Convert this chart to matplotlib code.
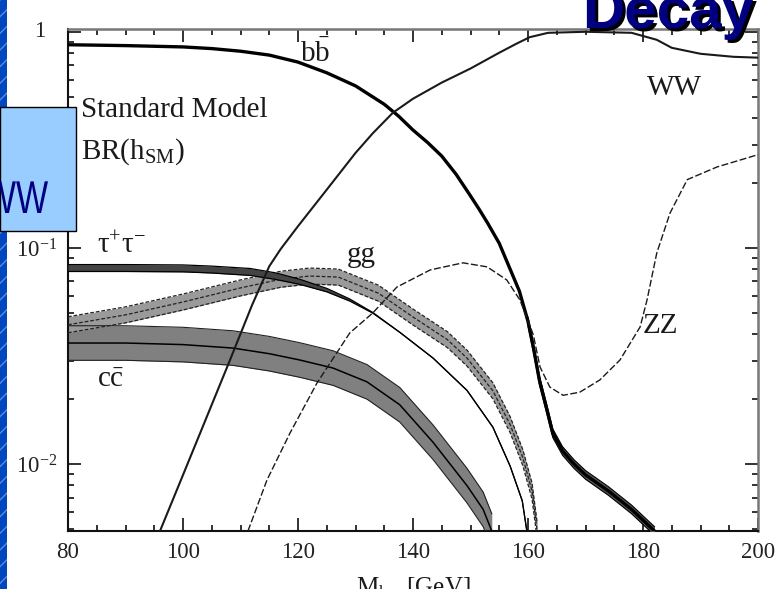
import numpy as np
import matplotlib
matplotlib.use("Agg")
import matplotlib.pyplot as plt
from matplotlib.patches import Rectangle, PathPatch
from matplotlib.textpath import TextPath
from matplotlib.font_manager import FontProperties
from matplotlib.transforms import Affine2D, IdentityTransform
from matplotlib.ticker import MultipleLocator, LogLocator, FixedLocator, FixedFormatter, NullFormatter

plt.rcParams['font.family'] = ['Liberation Serif', 'DejaVu Serif']
plt.rcParams['mathtext.fontset'] = 'custom'
plt.rcParams['mathtext.rm'] = 'Liberation Serif'
plt.rcParams['mathtext.it'] = 'Liberation Serif:italic'
plt.rcParams['mathtext.bf'] = 'Liberation Serif:bold'

# Higgs mass [GeV] and branching ratios, one pair of lists per channel
bb_m = [80, 90, 100, 105, 110, 115, 120, 125, 130, 135, 137.5, 140, 142.5, 145, 147.5,
        150, 151.5, 153, 155, 157, 158.5, 160, 161, 162, 163.3, 164.3, 166, 168, 170,
        174, 178, 182]
bb_br = [0.871, 0.863, 0.851, 0.836, 0.813, 0.780, 0.724, 0.646, 0.562, 0.462, 0.407,
         0.351, 0.308, 0.266, 0.219, 0.174, 0.151, 0.130, 0.105, 0.0785, 0.0631, 0.0457,
         0.0339, 0.0243, 0.0178, 0.0139, 0.0115, 0.0100, 0.00891, 0.00750, 0.00617,
         0.00490]

ww_m = [96, 100, 104, 108, 112, 115, 117, 120, 125, 130, 133, 136.5, 140, 145, 150, 155,
        158, 160.3, 163.5, 170, 178, 182.4, 185, 190, 195.7, 200]
ww_br = [0.0049, 0.0089, 0.0162, 0.0295, 0.0543, 0.0822, 0.0989, 0.126, 0.186, 0.275,
         0.339, 0.422, 0.490, 0.582, 0.676, 0.800, 0.881, 0.944, 0.989, 1.0, 0.989,
         0.918, 0.843, 0.791, 0.766, 0.759]

zz_m = [111.3, 114.6, 118.6, 123.3, 129.0, 133.0, 137.2, 143.0, 148.7, 152.9, 156.3,
        158.6, 160.9, 162.1, 163.8, 166.1, 169.0, 172.5, 176.0, 179.5, 180.7, 182.4,
        184.7, 187.7, 192.9, 200]
zz_br = [0.0049, 0.00843, 0.0139, 0.0237, 0.0404, 0.0500, 0.0659, 0.0791, 0.0853,
         0.0817, 0.0711, 0.0574, 0.0398, 0.0281, 0.0227, 0.0208, 0.0215, 0.0245, 0.0303,
         0.0431, 0.0574, 0.0948, 0.145, 0.207, 0.237, 0.270]

gg_m = [80, 90, 100, 110, 117, 122, 127, 134, 140, 146, 149.4, 153.9, 156.9, 159.1,
        160.7, 161.6]
gg_br = [0.0441, 0.0490, 0.0562, 0.0653, 0.0716, 0.0741, 0.0733, 0.0617, 0.0479,
         0.0376, 0.0309, 0.0218, 0.0152, 0.0107, 0.0075, 0.0049]

tau_m = [80, 90, 100, 105, 111.7, 116, 120.3, 125, 129, 133, 137.7, 143.5, 149.4,
         153.9, 156.9, 159, 159.8]
tau_br = [0.0807, 0.0807, 0.0804, 0.0794, 0.0774, 0.0741, 0.0697, 0.0638, 0.0574,
          0.0501, 0.0407, 0.0309, 0.0219, 0.0148, 0.00977, 0.00676, 0.0049]

cc_m = [80, 90, 100, 108.7, 115, 120.3, 126.1, 132, 137.7, 143.5, 149.4, 152.2, 153.7]
cc_br = [0.0363, 0.0363, 0.0357, 0.0344, 0.0324, 0.0303, 0.0278, 0.0240, 0.0188,
         0.0126, 0.00794, 0.00617, 0.0049]

y_ticks = [1, 0.1, 0.01]
y_tick_labels = ['', r'$10^{-1}$', r'$10^{-2}$']


def band(br, half_dec):
    br = np.asarray(br)
    return br * 10 ** (-half_dec), br * 10 ** half_dec


W, H = 784, 604
fig = plt.figure(figsize=(W / 100, H / 100), dpi=100)
fig.patch.set_facecolor('white')


def fx(x):
    return x / W


def fy(y):
    return 1 - y / H


ax = fig.add_axes([fx(68), fy(531), 690 / W, 502 / H])
ax.set_yscale('log')
ax.set_xlim(80, 200)
ax.set_ylim(0.0049, 1.03)

# c cbar: gray band with solid edges and centre line
lo, hi = band(cc_br, 0.08)
ax.fill_between(cc_m, lo, hi, color='#808080', lw=0, zorder=2)
for y in (lo, hi):
    ax.plot(cc_m, y, color='#222222', lw=0.8, zorder=3)
ax.plot(cc_m, cc_br, color='black', lw=1.1, zorder=3)

# gg: lighter band drawn with dashed lines
lo, hi = band(gg_br, 0.037)
ax.fill_between(gg_m, lo, hi, color='#9a9a9a', lw=0, zorder=2)
for y in (lo, gg_br, hi):
    ax.plot(gg_m, y, color='#222222', lw=0.9, ls=(0, (3, 1.5)), zorder=3)

# tau tau: dark band at low mass that narrows to a single line
tau_m_arr = np.asarray(tau_m)
tau_hw = 0.016 * np.clip((135 - tau_m_arr) / 20, 0, 1)
lo = np.asarray(tau_br) * 10 ** (-tau_hw)
hi = np.asarray(tau_br) * 10 ** tau_hw
ax.fill_between(tau_m, lo, hi, color='#444444', lw=0, zorder=3)
for y in (lo, hi):
    ax.plot(tau_m, y, color='black', lw=0.9, zorder=4)

# b bbar: thick line, widening into a band past the WW threshold
bb_m_arr = np.asarray(bb_m)
lo, hi = band(bb_br, 0.02)
tail = bb_m_arr >= 160
ax.fill_between(bb_m_arr[tail], lo[tail], hi[tail], color='#555555', lw=0, zorder=3)
for y in (lo, hi):
    ax.plot(bb_m_arr[tail], y[tail], color='black', lw=0.8, zorder=4)
ax.plot(bb_m, bb_br, color='black', lw=2.4, zorder=4)

# WW and ZZ
ax.plot(ww_m, ww_br, color='#1a1a1a', lw=1.5, zorder=4)
ax.plot(zz_m, zz_br, color='#1a1a1a', lw=1.0, ls=(0, (5, 1.8)), zorder=4)

# channel labels
lab = dict(fontsize=21, color='#1a1a1a', va='baseline', ha='left', zorder=5)
ax.text(82.3, 0.404, 'Standard Model', **lab)
ax.text(82.3, 0.258, r'BR(h$_{\rm SM}$)', **lab)
ax.text(120.3, 0.726, r'b$\bar{\rm b}$', **lab)
ax.text(180.7, 0.51, 'WW', **lab)
ax.text(85.0, 0.0948, r'τ$^{+}$τ$^{-}$', **lab)
ax.text(128.5, 0.086, 'gg', **lab)
ax.text(180.0, 0.0404, 'ZZ', **lab)
ax.text(85.0, 0.0227, r'c$\bar{\rm c}$', **lab)

# ticks
ax.xaxis.set_major_locator(MultipleLocator(20))
ax.xaxis.set_minor_locator(MultipleLocator(5))
ax.yaxis.set_major_locator(FixedLocator(y_ticks))
ax.yaxis.set_major_formatter(FixedFormatter(y_tick_labels))
ax.yaxis.set_minor_locator(LogLocator(base=10, subs=range(2, 10)))
ax.yaxis.set_minor_formatter(NullFormatter())
ax.tick_params(which='both', direction='in', top=True, right=True, width=1.3,
               colors='#222222', labelsize=16.5)
ax.tick_params(which='major', length=9.5)
ax.tick_params(which='minor', length=4.5)
ax.tick_params(axis='x', pad=8)
ax.tick_params(axis='y', pad=8)
# the "1" sits under the mantissa of the other labels, not flush with them
ax.text(-0.033, 1.0, '1', transform=ax.get_yaxis_transform(), fontsize=16.5,
        color='#222222', ha='right', va='center', clip_on=False)
for side in ('left', 'bottom'):
    ax.spines[side].set_linewidth(1.5)
    ax.spines[side].set_color('#111111')
for side in ('top', 'right'):
    ax.spines[side].set_linewidth(1.8)
    ax.spines[side].set_color('#777777')

fig.text(fx(413), fy(594), r'M$_{\rm h}$   [GeV]', fontsize=18, ha='center',
         va='baseline', color='#1a1a1a')

# slide decoration: blue edge strip, label box, title
fig.add_artist(Rectangle((0, fy(589)), fx(7), 589 / H, transform=fig.transFigure,
                         facecolor='#0046be', edgecolor='#5b8be0', hatch='//',
                         lw=0, zorder=1))
fig.add_artist(Rectangle((0, fy(231)), fx(76), 124 / H, transform=fig.transFigure,
                         facecolor='#99ccff', edgecolor='black', lw=1.0, zorder=2))

# condensed "WW" in the box, built as a path so it can be squeezed sideways
ww_path = TextPath((0, 0), 'WW', size=46, prop=FontProperties(family='Liberation Sans'))
ext = ww_path.get_extents()
squeeze = 0.74
ww_tf = Affine2D().scale(squeeze, 1).translate(48 - ext.x1 * squeeze, H - 213)
fig.add_artist(PathPatch(ww_tf.transform_path(ww_path), transform=IdentityTransform(),
                         facecolor='#000080', edgecolor='none', zorder=3))

fig.text(fx(585), fy(31), 'Decay', fontsize=42, fontweight='bold', color='black',
         ha='left', va='baseline', family='Liberation Sans', zorder=6)
fig.text(fx(582), fy(28), 'Decay', fontsize=42, fontweight='bold', color='#000080',
         ha='left', va='baseline', family='Liberation Sans', zorder=7)

# page is cut off just below the axis title
fig.add_artist(Rectangle((0, 0), 1, fy(589), transform=fig.transFigure,
                         facecolor='white', edgecolor='none', zorder=10))

fig.savefig('out.png', dpi=100)
